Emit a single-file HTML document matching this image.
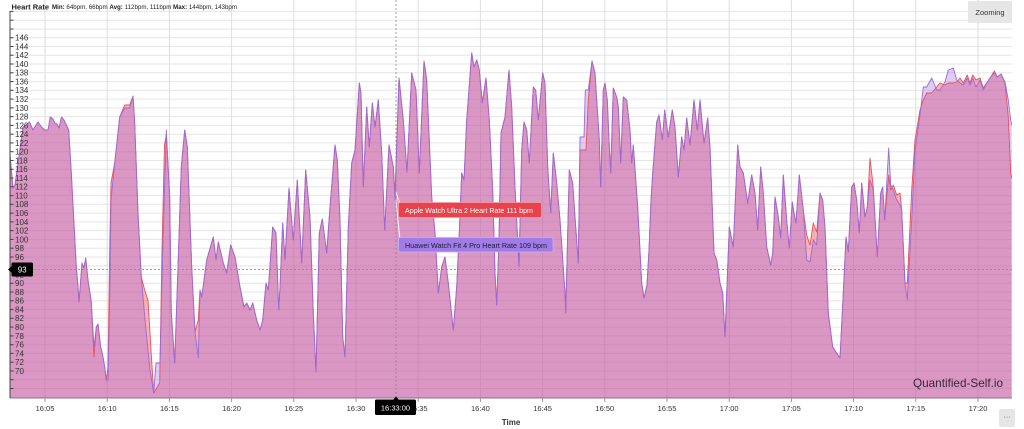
<!DOCTYPE html>
<html><head><meta charset="utf-8"><style>
html,body{margin:0;padding:0;background:#fff;}
svg{display:block;font-family:"Liberation Sans",Arial,sans-serif;}
</style></head><body>
<svg width="1024" height="429" viewBox="0 0 1024 429" xmlns="http://www.w3.org/2000/svg">
<rect width="1024" height="429" fill="#fff"/>
<!-- horizontal grid -->
<g stroke="#e6e6e6" stroke-width="1">
<line x1="10" x2="1012" y1="11.4" y2="11.4"/><line x1="10" x2="1012" y1="20.2" y2="20.2"/><line x1="10" x2="1012" y1="29" y2="29"/><line x1="10" x2="1012" y1="37.7" y2="37.7"/><line x1="10" x2="1012" y1="46.5" y2="46.5"/><line x1="10" x2="1012" y1="55.2" y2="55.2"/><line x1="10" x2="1012" y1="64" y2="64"/><line x1="10" x2="1012" y1="72.8" y2="72.8"/><line x1="10" x2="1012" y1="81.6" y2="81.6"/><line x1="10" x2="1012" y1="90.3" y2="90.3"/><line x1="10" x2="1012" y1="99.1" y2="99.1"/><line x1="10" x2="1012" y1="107.9" y2="107.9"/><line x1="10" x2="1012" y1="116.6" y2="116.6"/><line x1="10" x2="1012" y1="125.4" y2="125.4"/><line x1="10" x2="1012" y1="134.2" y2="134.2"/><line x1="10" x2="1012" y1="142.9" y2="142.9"/><line x1="10" x2="1012" y1="151.7" y2="151.7"/><line x1="10" x2="1012" y1="160.5" y2="160.5"/><line x1="10" x2="1012" y1="169.3" y2="169.3"/><line x1="10" x2="1012" y1="178" y2="178"/><line x1="10" x2="1012" y1="186.8" y2="186.8"/><line x1="10" x2="1012" y1="195.6" y2="195.6"/><line x1="10" x2="1012" y1="204.3" y2="204.3"/><line x1="10" x2="1012" y1="213.1" y2="213.1"/><line x1="10" x2="1012" y1="221.9" y2="221.9"/><line x1="10" x2="1012" y1="230.6" y2="230.6"/><line x1="10" x2="1012" y1="239.4" y2="239.4"/><line x1="10" x2="1012" y1="248.2" y2="248.2"/><line x1="10" x2="1012" y1="257" y2="257"/><line x1="10" x2="1012" y1="265.7" y2="265.7"/><line x1="10" x2="1012" y1="274.5" y2="274.5"/><line x1="10" x2="1012" y1="283.3" y2="283.3"/><line x1="10" x2="1012" y1="292" y2="292"/><line x1="10" x2="1012" y1="300.8" y2="300.8"/><line x1="10" x2="1012" y1="309.6" y2="309.6"/><line x1="10" x2="1012" y1="318.3" y2="318.3"/><line x1="10" x2="1012" y1="327.1" y2="327.1"/><line x1="10" x2="1012" y1="335.9" y2="335.9"/><line x1="10" x2="1012" y1="344.7" y2="344.7"/><line x1="10" x2="1012" y1="353.4" y2="353.4"/><line x1="10" x2="1012" y1="362.2" y2="362.2"/><line x1="10" x2="1012" y1="371" y2="371"/><line x1="10" x2="1012" y1="379.7" y2="379.7"/><line x1="10" x2="1012" y1="388.5" y2="388.5"/>
</g>
<!-- vertical grid -->
<g stroke="#dedede" stroke-width="1">
<line x1="45" x2="45" y1="0" y2="398"/><line x1="107.2" x2="107.2" y1="0" y2="398"/><line x1="169.4" x2="169.4" y1="0" y2="398"/><line x1="231.6" x2="231.6" y1="0" y2="398"/><line x1="293.8" x2="293.8" y1="0" y2="398"/><line x1="356" x2="356" y1="0" y2="398"/><line x1="418.2" x2="418.2" y1="0" y2="398"/><line x1="480.4" x2="480.4" y1="0" y2="398"/><line x1="542.6" x2="542.6" y1="0" y2="398"/><line x1="604.8" x2="604.8" y1="0" y2="398"/><line x1="667" x2="667" y1="0" y2="398"/><line x1="729.2" x2="729.2" y1="0" y2="398"/><line x1="791.4" x2="791.4" y1="0" y2="398"/><line x1="853.6" x2="853.6" y1="0" y2="398"/><line x1="915.8" x2="915.8" y1="0" y2="398"/><line x1="978" x2="978" y1="0" y2="398"/>
</g>

<!-- Apple series (red) -->
<path fill="rgba(240,70,80,0.42)" stroke="none" d="M10,398 L10,155 13,188 15,185 18,163 23,127 26.3,125 29.5,122 33,130 38,122 41.5,127 44.7,130 48,130 50.3,117 53,119 54.7,123 57,124 59,128 61.5,117 64,120 66.3,125 68.7,130 71.3,173 76.3,267 78,287 79,302 82,263 84,268 85.7,258 88,280 91.3,302 94,357 96.3,327 98,324 100.7,347 103,357 104.7,367 106.3,380 108,367 109.7,250 111,183 114.7,163 119.7,117 124.7,105 129.7,105 133,96 134.7,123 138,213 141.3,277 144.7,290 148,300 151.3,355 153.7,393 159.7,383 162,250 164.5,145 166.3,135 169.7,197 171.3,313 174.7,363 178,267 181.3,167 184.7,130 187.3,147 191.7,267 195,332 198.3,320 200,290 201.7,297 206.7,260 213.3,237 216,260 218.3,242 223.3,263 226.7,273 230.7,245 235,257 240,287 244,307 246.7,303 250,310 252.7,303 256.7,320 260,330 262.7,320 266,283 268.3,290 272.7,227 276,233 278.7,310 280,287 282.7,223 285,260 289,188 293.3,240 297.3,180 301.7,263 305.7,170 310,217 313.3,313 316,372 319.3,233 322.3,219 326.7,253 330,207 335,145 337.3,160 340,220 342.7,337 345,357 348.3,227 351.7,163 355,150 359.3,83 361,93 363.3,187 366.7,107 369.3,147 372.3,103 375,127 378.3,100 381.7,153 384.7,230 389,145 393.3,167 395,193 399,78 403.3,120 407,172 411.7,73 416,90 419.3,173 424,61 426.7,80 431.7,197 435,233 438.3,293 441.7,267 445,257 448.3,283 453.3,330 456.7,287 459.3,233 461.7,173 464,180 466.7,120 471.7,53 474,67 476.7,60 479.3,70 482.3,103 486,78 489.3,120 492.7,190 495,273 496.7,305 499,240 501,133 505,117 509,70 511.7,107 515,187 519,267 521.7,150 524,122 526.7,130 529.3,163 533.3,87 535.7,90 538.3,120 542.7,73 545,83 547.7,167 550.7,213 553.3,153 556.7,183 560,220 565,293 565.7,313 569.3,170 572.7,183 575,217 578.3,263 580,150 586,150 588.3,100 592,61 595,73 599.3,140 600.7,187 603.3,90 605,83 607.3,100 609.3,147 610.7,173 613.3,88 616.7,97 618.3,107 620.7,163 623.3,97 626.7,100 630,130 631.7,163 633.3,145 637.7,207 641.7,283 644,298 647,285 649,250 651,200 652.7,173 656.7,122 659,115 662.3,140 664.7,110 668.3,137 672.3,110 675,127 678.3,177 681.7,137 684,150 686.7,118 690,145 694,100 697.3,130 700,100 704,143 707.7,118 710,147 714,253 716.7,260 720,283 722.7,293 725,337 729.3,227 733.3,247 737.7,145 740,167 743.3,173 747.7,203 751.7,175 755,193 757.7,230 760.7,167 763.3,193 766.7,247 770.7,265 772.7,253 775,197 778.3,217 780.7,238 783.3,175 786.7,220 789.3,248 792.3,202 794,213 796,223 799.3,175 803.3,210 806.7,235 810,245 813.3,223 816.7,232 820,193 822.7,200 825,227 828.3,313 832.7,347 836.7,353 840,358 843.3,293 846,237 848.3,252 851.7,187 854,183 856.7,200 859.3,233 861.7,183 865,217 867.3,207 870,158 873.3,187 877.3,257 880.7,193 882.7,187 884.7,220 888.7,175 890.7,190 893.3,185 896.7,195 900,193 901.7,210 905,283 907.3,283 911.7,190 915,140 920,110 923.3,100 926.7,93 931.7,93 936.7,87 940,83 945,85 948.3,83 953.3,83 956.7,82 960,78 963.3,83 967.3,75 970,83 972.7,75 976,80 980,78 983.3,88 987.3,82 990.7,77 994.3,71 997.3,77 1001,74 1005,83 1008.3,117 1010.7,173 1011.7,178 L1011.7,398 Z"/>

<!-- Huawei series (purple) -->
<path fill="rgba(155,100,225,0.33)" stroke="none" d="M10,398 L10,155 13,188 15,185 18,163 23,127 26.3,125 29.5,122 33,130 38,122 41.5,127 44.7,130 48,130 50.3,117 53,119 54.7,123 57,124 59,128 61.5,117 64,120 66.3,125 68.7,130 71.3,173 76.3,267 78,287 79,302 82,263 84,268 85.7,258 88,280 91.3,302 94,347 96.3,327 98,324 100.7,347 103,357 104.7,367 106.3,380 108,380 109.7,300 111,200 114.7,163 119.7,117 124.7,108 129.7,108 133,96 134.7,123 138,213 141.3,277 145,320 150,370 153.7,393 156,363 160,363 163,240 166.3,130 169.7,197 171.3,313 174.7,363 178,267 181.3,167 184.7,130 187.3,147 191.7,267 195,332 198.3,358 200,290 201.7,297 206.7,260 213.3,237 216,260 218.3,242 223.3,263 226.7,273 230.7,245 235,257 240,287 244,307 246.7,303 250,310 252.7,303 256.7,320 260,330 262.7,320 266,283 268.3,290 272.7,227 276,233 278.7,310 280,287 282.7,223 285,260 289,188 293.3,240 297.3,180 301.7,263 305.7,170 310,217 313.3,313 316,372 319.3,233 322.3,219 326.7,253 330,207 335,145 337.3,160 340,220 342.7,337 345,357 348.3,227 351.7,163 355,150 359.3,83 361,93 363.3,187 366.7,107 369.3,147 372.3,103 375,127 378.3,100 381.7,153 384.7,230 389,145 393.3,167 395,200 399,78 403.3,120 407,172 411.7,73 416,90 419.3,173 424,61 426.7,80 431.7,197 435,233 438.3,293 441.7,267 445,257 448.3,283 453.3,330 456.7,287 459.3,233 461.7,173 464,180 466.7,120 471.7,53 474,67 476.7,60 479.3,70 482.3,103 486,78 489.3,120 492.7,190 495,273 496.7,305 499,240 501,133 505,117 509,70 511.7,107 515,187 519,267 521.7,150 524,122 526.7,130 529.3,163 533.3,87 535.7,90 538.3,120 542.7,73 545,83 547.7,167 550.7,213 553.3,153 556.7,183 560,220 565,293 565.7,313 569.3,170 572.7,183 575,217 578.3,263 580,137 584,137 585.3,90 588.3,90 592,61 595,73 599.3,140 600.7,187 603.3,90 605,83 607.3,100 609.3,147 610.7,173 613.3,88 616.7,97 618.3,107 620.7,163 623.3,97 626.7,100 630,130 631.7,163 633.3,145 637.7,207 641.7,283 644,298 647,285 649,250 651,200 652.7,173 656.7,122 659,115 662.3,140 664.7,110 668.3,137 672.3,110 675,127 678.3,177 681.7,137 684,150 686.7,118 690,145 694,100 697.3,130 700,100 704,143 707.7,118 710,147 714,253 716.7,260 720,283 722.7,293 725,337 729.3,227 733.3,247 737.7,145 740,167 743.3,173 747.7,203 751.7,175 755,193 757.7,230 760.7,167 763.3,193 766.7,247 770.7,265 772.7,253 775,197 778.3,217 780.7,238 783.3,175 786.7,220 789.3,248 792.3,202 794,213 796,223 799.3,175 803.3,210 806.7,260 810,262 813.3,240 816.7,245 820,193 822.7,200 825,227 828.3,313 832.7,347 836.7,353 840,358 843.3,293 846,237 848.3,252 851.7,187 854,183 856.7,200 859.3,233 861.7,183 865,217 867.3,207 870,180 873.3,190 877.3,257 880.7,193 882.7,187 884.7,220 888.7,148 890.7,185 893.3,190 896.7,200 900,205 901.7,210 905,283 907.3,300 911.7,220 915,150 920,115 923.3,87 926.7,87 931.7,78 936.7,90 940,90 945,82 948.3,70 953.3,68 956.7,80 960,83 963.3,85 967.3,78 970,85 972.7,78 976,87 980,80 983.3,90 987.3,82 990.7,77 994.3,73 997.3,77 1001,74 1005,82 1008.3,100 1010.7,120 1011.7,125 L1011.7,398 Z"/>

<!-- series lines -->
<path fill="none" stroke="#e8505a" stroke-width="0.9" stroke-linejoin="round" d="M10,155 13,188 15,185 18,163 23,127 26.3,125 29.5,122 33,130 38,122 41.5,127 44.7,130 48,130 50.3,117 53,119 54.7,123 57,124 59,128 61.5,117 64,120 66.3,125 68.7,130 71.3,173 76.3,267 78,287 79,302 82,263 84,268 85.7,258 88,280 91.3,302 94,357 96.3,327 98,324 100.7,347 103,357 104.7,367 106.3,380 108,367 109.7,250 111,183 114.7,163 119.7,117 124.7,105 129.7,105 133,96 134.7,123 138,213 141.3,277 144.7,290 148,300 151.3,355 153.7,393 159.7,383 162,250 164.5,145 166.3,135 169.7,197 171.3,313 174.7,363 178,267 181.3,167 184.7,130 187.3,147 191.7,267 195,332 198.3,320 200,290 201.7,297 206.7,260 213.3,237 216,260 218.3,242 223.3,263 226.7,273 230.7,245 235,257 240,287 244,307 246.7,303 250,310 252.7,303 256.7,320 260,330 262.7,320 266,283 268.3,290 272.7,227 276,233 278.7,310 280,287 282.7,223 285,260 289,188 293.3,240 297.3,180 301.7,263 305.7,170 310,217 313.3,313 316,372 319.3,233 322.3,219 326.7,253 330,207 335,145 337.3,160 340,220 342.7,337 345,357 348.3,227 351.7,163 355,150 359.3,83 361,93 363.3,187 366.7,107 369.3,147 372.3,103 375,127 378.3,100 381.7,153 384.7,230 389,145 393.3,167 395,193 399,78 403.3,120 407,172 411.7,73 416,90 419.3,173 424,61 426.7,80 431.7,197 435,233 438.3,293 441.7,267 445,257 448.3,283 453.3,330 456.7,287 459.3,233 461.7,173 464,180 466.7,120 471.7,53 474,67 476.7,60 479.3,70 482.3,103 486,78 489.3,120 492.7,190 495,273 496.7,305 499,240 501,133 505,117 509,70 511.7,107 515,187 519,267 521.7,150 524,122 526.7,130 529.3,163 533.3,87 535.7,90 538.3,120 542.7,73 545,83 547.7,167 550.7,213 553.3,153 556.7,183 560,220 565,293 565.7,313 569.3,170 572.7,183 575,217 578.3,263 580,150 586,150 588.3,100 592,61 595,73 599.3,140 600.7,187 603.3,90 605,83 607.3,100 609.3,147 610.7,173 613.3,88 616.7,97 618.3,107 620.7,163 623.3,97 626.7,100 630,130 631.7,163 633.3,145 637.7,207 641.7,283 644,298 647,285 649,250 651,200 652.7,173 656.7,122 659,115 662.3,140 664.7,110 668.3,137 672.3,110 675,127 678.3,177 681.7,137 684,150 686.7,118 690,145 694,100 697.3,130 700,100 704,143 707.7,118 710,147 714,253 716.7,260 720,283 722.7,293 725,337 729.3,227 733.3,247 737.7,145 740,167 743.3,173 747.7,203 751.7,175 755,193 757.7,230 760.7,167 763.3,193 766.7,247 770.7,265 772.7,253 775,197 778.3,217 780.7,238 783.3,175 786.7,220 789.3,248 792.3,202 794,213 796,223 799.3,175 803.3,210 806.7,235 810,245 813.3,223 816.7,232 820,193 822.7,200 825,227 828.3,313 832.7,347 836.7,353 840,358 843.3,293 846,237 848.3,252 851.7,187 854,183 856.7,200 859.3,233 861.7,183 865,217 867.3,207 870,158 873.3,187 877.3,257 880.7,193 882.7,187 884.7,220 888.7,175 890.7,190 893.3,185 896.7,195 900,193 901.7,210 905,283 907.3,283 911.7,190 915,140 920,110 923.3,100 926.7,93 931.7,93 936.7,87 940,83 945,85 948.3,83 953.3,83 956.7,82 960,78 963.3,83 967.3,75 970,83 972.7,75 976,80 980,78 983.3,88 987.3,82 990.7,77 994.3,71 997.3,77 1001,74 1005,83 1008.3,117 1010.7,173 1011.7,178"/>
<path fill="none" stroke="#9a6ad8" stroke-width="0.9" stroke-linejoin="round" d="M10,155 13,188 15,185 18,163 23,127 26.3,125 29.5,122 33,130 38,122 41.5,127 44.7,130 48,130 50.3,117 53,119 54.7,123 57,124 59,128 61.5,117 64,120 66.3,125 68.7,130 71.3,173 76.3,267 78,287 79,302 82,263 84,268 85.7,258 88,280 91.3,302 94,347 96.3,327 98,324 100.7,347 103,357 104.7,367 106.3,380 108,380 109.7,300 111,200 114.7,163 119.7,117 124.7,108 129.7,108 133,96 134.7,123 138,213 141.3,277 145,320 150,370 153.7,393 156,363 160,363 163,240 166.3,130 169.7,197 171.3,313 174.7,363 178,267 181.3,167 184.7,130 187.3,147 191.7,267 195,332 198.3,358 200,290 201.7,297 206.7,260 213.3,237 216,260 218.3,242 223.3,263 226.7,273 230.7,245 235,257 240,287 244,307 246.7,303 250,310 252.7,303 256.7,320 260,330 262.7,320 266,283 268.3,290 272.7,227 276,233 278.7,310 280,287 282.7,223 285,260 289,188 293.3,240 297.3,180 301.7,263 305.7,170 310,217 313.3,313 316,372 319.3,233 322.3,219 326.7,253 330,207 335,145 337.3,160 340,220 342.7,337 345,357 348.3,227 351.7,163 355,150 359.3,83 361,93 363.3,187 366.7,107 369.3,147 372.3,103 375,127 378.3,100 381.7,153 384.7,230 389,145 393.3,167 395,200 399,78 403.3,120 407,172 411.7,73 416,90 419.3,173 424,61 426.7,80 431.7,197 435,233 438.3,293 441.7,267 445,257 448.3,283 453.3,330 456.7,287 459.3,233 461.7,173 464,180 466.7,120 471.7,53 474,67 476.7,60 479.3,70 482.3,103 486,78 489.3,120 492.7,190 495,273 496.7,305 499,240 501,133 505,117 509,70 511.7,107 515,187 519,267 521.7,150 524,122 526.7,130 529.3,163 533.3,87 535.7,90 538.3,120 542.7,73 545,83 547.7,167 550.7,213 553.3,153 556.7,183 560,220 565,293 565.7,313 569.3,170 572.7,183 575,217 578.3,263 580,137 584,137 585.3,90 588.3,90 592,61 595,73 599.3,140 600.7,187 603.3,90 605,83 607.3,100 609.3,147 610.7,173 613.3,88 616.7,97 618.3,107 620.7,163 623.3,97 626.7,100 630,130 631.7,163 633.3,145 637.7,207 641.7,283 644,298 647,285 649,250 651,200 652.7,173 656.7,122 659,115 662.3,140 664.7,110 668.3,137 672.3,110 675,127 678.3,177 681.7,137 684,150 686.7,118 690,145 694,100 697.3,130 700,100 704,143 707.7,118 710,147 714,253 716.7,260 720,283 722.7,293 725,337 729.3,227 733.3,247 737.7,145 740,167 743.3,173 747.7,203 751.7,175 755,193 757.7,230 760.7,167 763.3,193 766.7,247 770.7,265 772.7,253 775,197 778.3,217 780.7,238 783.3,175 786.7,220 789.3,248 792.3,202 794,213 796,223 799.3,175 803.3,210 806.7,260 810,262 813.3,240 816.7,245 820,193 822.7,200 825,227 828.3,313 832.7,347 836.7,353 840,358 843.3,293 846,237 848.3,252 851.7,187 854,183 856.7,200 859.3,233 861.7,183 865,217 867.3,207 870,180 873.3,190 877.3,257 880.7,193 882.7,187 884.7,220 888.7,148 890.7,185 893.3,190 896.7,200 900,205 901.7,210 905,283 907.3,300 911.7,220 915,150 920,115 923.3,87 926.7,87 931.7,78 936.7,90 940,90 945,82 948.3,70 953.3,68 956.7,80 960,83 963.3,85 967.3,78 970,85 972.7,78 976,87 980,80 983.3,90 987.3,82 990.7,77 994.3,73 997.3,77 1001,74 1005,82 1008.3,100 1010.7,120 1011.7,125"/>

<!-- axes -->
<line x1="10" x2="1012" y1="398" y2="398" stroke="#8a7088" stroke-width="1"/>
<line x1="10" x2="10" y1="11" y2="398" stroke="#444" stroke-width="1"/>
<g stroke="#444" stroke-width="1">
<line x1="10" x2="13.5" y1="11.4" y2="11.4"/><line x1="10" x2="13.5" y1="20.2" y2="20.2"/><line x1="10" x2="13.5" y1="29" y2="29"/><line x1="10" x2="13.5" y1="37.7" y2="37.7"/><line x1="10" x2="13.5" y1="46.5" y2="46.5"/><line x1="10" x2="13.5" y1="55.2" y2="55.2"/><line x1="10" x2="13.5" y1="64" y2="64"/><line x1="10" x2="13.5" y1="72.8" y2="72.8"/><line x1="10" x2="13.5" y1="81.6" y2="81.6"/><line x1="10" x2="13.5" y1="90.3" y2="90.3"/><line x1="10" x2="13.5" y1="99.1" y2="99.1"/><line x1="10" x2="13.5" y1="107.9" y2="107.9"/><line x1="10" x2="13.5" y1="116.6" y2="116.6"/><line x1="10" x2="13.5" y1="125.4" y2="125.4"/><line x1="10" x2="13.5" y1="134.2" y2="134.2"/><line x1="10" x2="13.5" y1="142.9" y2="142.9"/><line x1="10" x2="13.5" y1="151.7" y2="151.7"/><line x1="10" x2="13.5" y1="160.5" y2="160.5"/><line x1="10" x2="13.5" y1="169.3" y2="169.3"/><line x1="10" x2="13.5" y1="178" y2="178"/><line x1="10" x2="13.5" y1="186.8" y2="186.8"/><line x1="10" x2="13.5" y1="195.6" y2="195.6"/><line x1="10" x2="13.5" y1="204.3" y2="204.3"/><line x1="10" x2="13.5" y1="213.1" y2="213.1"/><line x1="10" x2="13.5" y1="221.9" y2="221.9"/><line x1="10" x2="13.5" y1="230.6" y2="230.6"/><line x1="10" x2="13.5" y1="239.4" y2="239.4"/><line x1="10" x2="13.5" y1="248.2" y2="248.2"/><line x1="10" x2="13.5" y1="257" y2="257"/><line x1="10" x2="13.5" y1="283.3" y2="283.3"/><line x1="10" x2="13.5" y1="292" y2="292"/><line x1="10" x2="13.5" y1="300.8" y2="300.8"/><line x1="10" x2="13.5" y1="309.6" y2="309.6"/><line x1="10" x2="13.5" y1="318.3" y2="318.3"/><line x1="10" x2="13.5" y1="327.1" y2="327.1"/><line x1="10" x2="13.5" y1="335.9" y2="335.9"/><line x1="10" x2="13.5" y1="344.7" y2="344.7"/><line x1="10" x2="13.5" y1="353.4" y2="353.4"/><line x1="10" x2="13.5" y1="362.2" y2="362.2"/><line x1="10" x2="13.5" y1="371" y2="371"/><line x1="10" x2="13.5" y1="379.7" y2="379.7"/><line x1="10" x2="13.5" y1="388.5" y2="388.5"/>
</g>
<g stroke="#999" stroke-width="1">
<line x1="45" x2="45" y1="398" y2="402"/><line x1="107.2" x2="107.2" y1="398" y2="402"/><line x1="169.4" x2="169.4" y1="398" y2="402"/><line x1="231.6" x2="231.6" y1="398" y2="402"/><line x1="293.8" x2="293.8" y1="398" y2="402"/><line x1="356" x2="356" y1="398" y2="402"/><line x1="418.2" x2="418.2" y1="398" y2="402"/><line x1="480.4" x2="480.4" y1="398" y2="402"/><line x1="542.6" x2="542.6" y1="398" y2="402"/><line x1="604.8" x2="604.8" y1="398" y2="402"/><line x1="667" x2="667" y1="398" y2="402"/><line x1="729.2" x2="729.2" y1="398" y2="402"/><line x1="791.4" x2="791.4" y1="398" y2="402"/><line x1="853.6" x2="853.6" y1="398" y2="402"/><line x1="915.8" x2="915.8" y1="398" y2="402"/><line x1="978" x2="978" y1="398" y2="402"/>
</g>

<!-- y labels -->
<g font-size="8" fill="#333">
<text x="15" y="40.6">146</text><text x="15" y="49.4">144</text><text x="15" y="58.1">142</text><text x="15" y="66.9">140</text><text x="15" y="75.7">138</text><text x="15" y="84.5">136</text><text x="15" y="93.2">134</text><text x="15" y="102">132</text><text x="15" y="110.8">130</text><text x="15" y="119.5">128</text><text x="15" y="128.3">126</text><text x="15" y="137.1">124</text><text x="15" y="145.8">122</text><text x="15" y="154.6">120</text><text x="15" y="163.4">118</text><text x="15" y="172.2">116</text><text x="15" y="180.9">114</text><text x="15" y="189.7">112</text><text x="15" y="198.5">110</text><text x="15" y="207.2">108</text><text x="15" y="216">106</text><text x="15" y="224.8">104</text><text x="15" y="233.5">102</text><text x="15" y="242.3">100</text><text x="15" y="251.1">98</text><text x="15" y="259.9">96</text><text x="15" y="268.6">94</text><text x="15" y="277.4">92</text><text x="15" y="286.2">90</text><text x="15" y="294.9">88</text><text x="15" y="303.7">86</text><text x="15" y="312.5">84</text><text x="15" y="321.2">82</text><text x="15" y="330">80</text><text x="15" y="338.8">78</text><text x="15" y="347.6">76</text><text x="15" y="356.3">74</text><text x="15" y="365.1">72</text><text x="15" y="373.9">70</text>
</g>

<!-- x labels -->
<g font-size="7.5" fill="#333" text-anchor="middle">
<text x="45" y="411">16:05</text><text x="107.2" y="411">16:10</text><text x="169.4" y="411">16:15</text><text x="231.6" y="411">16:20</text><text x="293.8" y="411">16:25</text><text x="356" y="411">16:30</text><text x="418.2" y="411">16:35</text><text x="480.4" y="411">16:40</text><text x="542.6" y="411">16:45</text><text x="604.8" y="411">16:50</text><text x="667" y="411">16:55</text><text x="729.2" y="411">17:00</text><text x="791.4" y="411">17:05</text><text x="853.6" y="411">17:10</text><text x="915.8" y="411">17:15</text><text x="978" y="411">17:20</text>
</g>
<text x="511" y="425" font-size="8" font-weight="bold" fill="#333" text-anchor="middle">Time</text>

<!-- title -->
<text x="11.5" y="9.3" font-size="7.5" font-weight="bold" fill="#222" textLength="37.5" lengthAdjust="spacingAndGlyphs">Heart Rate</text>
<text x="52" y="9.2" font-size="6" fill="#222" textLength="185" lengthAdjust="spacingAndGlyphs"><tspan font-weight="bold">Min:</tspan> 64bpm, 66bpm <tspan font-weight="bold">Avg:</tspan> 112bpm, 111bpm <tspan font-weight="bold">Max:</tspan> 144bpm, 143bpm</text>

<!-- watermark -->
<text x="913" y="387" font-size="12" fill="#3a2438" textLength="90" lengthAdjust="spacingAndGlyphs">Quantified-Self.io</text>

<!-- crosshairs -->
<line x1="396" x2="396" y1="0" y2="398" stroke="#888" stroke-width="0.8" stroke-dasharray="2,2"/>
<line x1="10" x2="1012" y1="269.5" y2="269.5" stroke="#888" stroke-width="0.8" stroke-dasharray="2,2"/>

<!-- tooltips -->
<path d="M396,192 L400,203 L400,209 Z" fill="#e8434d" stroke="#fff" stroke-width="0.6"/>
<rect x="398.5" y="202.5" width="143" height="15" rx="2" fill="#e8434d" stroke="#f4a0a4" stroke-width="0.8"/>
<text x="405" y="213" font-size="7.5" fill="#fff" textLength="128" lengthAdjust="spacingAndGlyphs">Apple Watch Ultra 2 Heart Rate 111 bpm</text>
<path d="M396,200 L400,238 L400,244 Z" fill="#a27ce6" stroke="#fff" stroke-width="0.6"/>
<rect x="398.5" y="237.5" width="154.5" height="14.5" rx="2" fill="#a27ce6" stroke="#c8b0f0" stroke-width="0.8"/>
<text x="405" y="248" font-size="7.5" fill="#1e1a3a" textLength="142" lengthAdjust="spacingAndGlyphs">Huawei Watch Fit 4 Pro Heart Rate 109 bpm</text>

<!-- y crosshair label -->
<path d="M8,269.5 L12,266 L12,273 Z" fill="#000"/>
<rect x="11.5" y="262.5" width="21.5" height="14" rx="1.5" fill="#000"/>
<text x="22.2" y="272.6" font-size="8" fill="#fff" text-anchor="middle">93</text>

<!-- x crosshair label -->
<path d="M396,396.5 L393,400 L399,400 Z" fill="#000"/>
<rect x="375" y="399.5" width="41" height="15.5" rx="1.5" fill="#000"/>
<text x="395.5" y="410.3" font-size="7.5" fill="#fff" text-anchor="middle">16:33:00</text>

<!-- buttons -->
<rect x="968" y="1" width="44" height="22" rx="2" fill="#e6e6e6"/>
<text x="990" y="15" font-size="7.5" fill="#333" text-anchor="middle">Zooming</text>
<rect x="999" y="409" width="16" height="18" rx="2" fill="#e6e6e6"/>
<text x="1007" y="419" font-size="7" fill="#555" text-anchor="middle">···</text>
</svg>
</body></html>
